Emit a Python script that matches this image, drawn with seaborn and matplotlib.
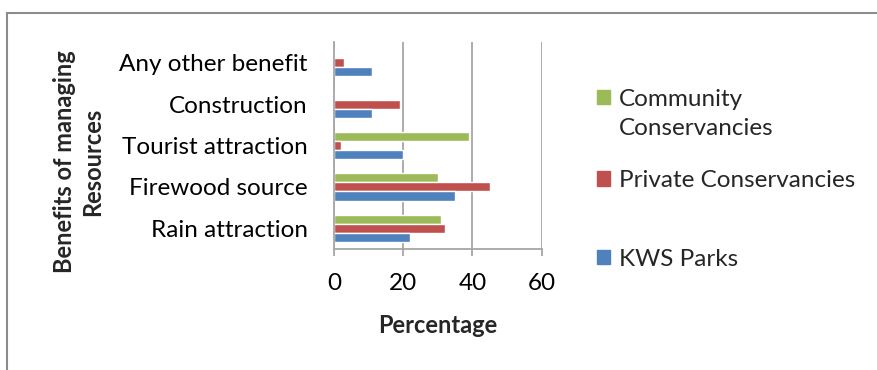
import matplotlib
matplotlib.use("Agg")
import matplotlib.pyplot as plt
import matplotlib.patches as mpatches
import seaborn as sns
import pandas as pd

# Benefits of managing resources, percentage of respondents per area type
benefits = ["Any other benefit", "Construction", "Tourist attraction",
            "Firewood source", "Rain attraction"]
community = [0, 0, 39, 30, 31]
private = [3, 19, 2, 45, 32]
kws = [11, 11, 20, 35, 22]

series_names = ["Community Conservancies", "Private Conservancies", "KWS Parks"]
series_colors = ["#9BBB59", "#C0504D", "#4F81BD"]
x_ticks = [0, 20, 40, 60]

rows = []
for name, vals in zip(series_names, [community, private, kws]):
    for b, v in zip(benefits, vals):
        rows.append({"Benefit": b, "Series": name, "Value": v})
df = pd.DataFrame(rows)

sns.set_theme(style="white")
plt.rcParams["font.family"] = ["Lato", "DejaVu Sans"]

FS = 17.5

fig = plt.figure(figsize=(8.77, 3.70), dpi=100)
ax = fig.add_axes([0.3809, 0.327, 0.2368, 0.5595])

sns.barplot(data=df, x="Value", y="Benefit", hue="Series", order=benefits,
            hue_order=series_names, palette=series_colors, orient="h",
            width=0.66, ax=ax, saturation=1, errorbar=None, legend=False)

ax.set_xlim(0, 60)
ax.set_xticks(x_ticks)
ax.set_xticklabels([str(t) for t in x_ticks])
ax.grid(axis="x", color="#A6A6A6", linewidth=1.3)
ax.grid(axis="y", visible=False)
ax.set_axisbelow(True)
for side in ["top", "right"]:
    ax.spines[side].set_visible(False)
for side in ["left", "bottom"]:
    ax.spines[side].set_color("#A6A6A6")
    ax.spines[side].set_linewidth(1.3)

ax.tick_params(axis="y", length=0, pad=19, labelsize=FS, colors="black")
ax.tick_params(axis="x", length=5, width=1.3, color="#A6A6A6", pad=12,
               labelsize=FS, labelcolor="black", direction="out", bottom=True)

ax.set_xlabel("Percentage", fontsize=17, fontweight="bold", labelpad=15)
ax.set_ylabel("")
fig.text(0.0741, 0.5635, "Benefits of managing", rotation=90, ha="center",
         va="center", fontsize=17, fontweight="bold")
fig.text(0.106, 0.5635, "Resources", rotation=90, ha="center",
         va="center", fontsize=17, fontweight="bold")

# legend: one entry per series, stacked down the right side
legend_y = [0.7324, 0.512, 0.2990]
legend_labels = ["Community", "Private Conservancies", "KWS Parks"]
for label, color, y in zip(legend_labels, series_colors, legend_y):
    fig.legend([mpatches.Patch(color=color)], [label], loc="center left",
               bbox_to_anchor=(0.681, y), frameon=False, fontsize=FS,
               handlelength=0.52, handleheight=0.52, handletextpad=0.38,
               borderpad=0, borderaxespad=0)
fig.text(0.7055, 0.654, "Conservancies", ha="left", va="center", fontsize=FS)

# outer chart frame
fig.add_artist(mpatches.Rectangle((0.008, -0.1), 1.2, 1.065,
                                  transform=fig.transFigure, fill=False,
                                  edgecolor="#8C8C8C", linewidth=1.5))

fig.savefig("out.png", dpi=100)
